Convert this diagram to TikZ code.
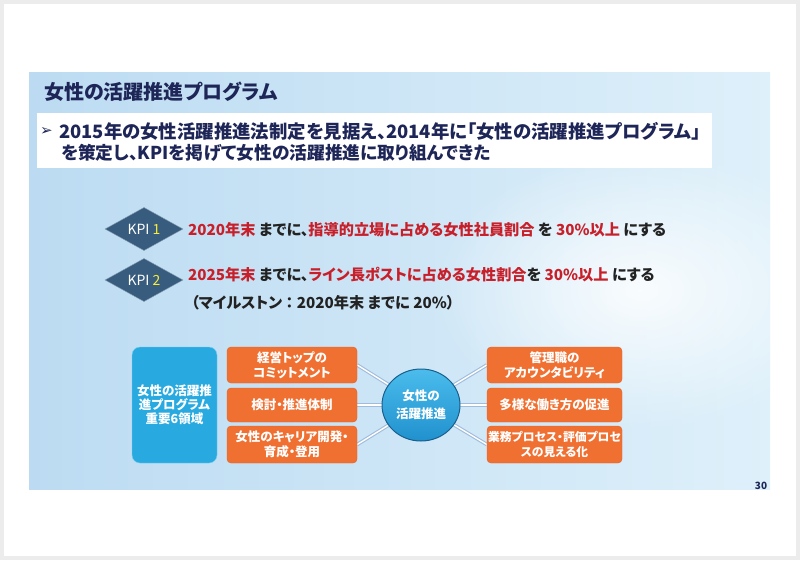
\documentclass[tikz,border=0pt]{standalone}
\usepackage{fontspec}
\setmainfont{Noto Sans CJK JP}[RawFeature=+palt]
\newfontfamily\dejavu{DejaVu Sans}
\usetikzlibrary{shapes.geometric,positioning,fadings}

\definecolor{navy}{RGB}{30,38,88}
\definecolor{ink}{RGB}{34,34,34}
\definecolor{kpired}{RGB}{200,32,42}
\definecolor{kpiblue}{RGB}{55,92,125}
\definecolor{kpiyellow}{RGB}{250,235,60}
\definecolor{orangefill}{RGB}{240,112,50}
\definecolor{orangeedge}{RGB}{226,96,36}
\definecolor{cyanfill}{RGB}{40,170,225}
\definecolor{hubtop}{RGB}{75,188,236}
\definecolor{hubbottom}{RGB}{32,145,205}
\definecolor{hubedge}{RGB}{25,95,140}
\definecolor{linkcol}{RGB}{160,188,220}
\definecolor{panelL}{RGB}{188,219,242}
\definecolor{panelR}{RGB}{222,240,250}

\pgfdeclarelayer{bg}
\pgfdeclarelayer{links}
\pgfsetlayers{bg,links,main}

\tikzfading[name=glow, inner color=transparent!0, outer color=transparent!100]

\newcommand{\hl}[1]{\textcolor{kpired}{#1}}

\tikzset{
  kpi/.style={diamond, fill=kpiblue, draw=kpiblue!60!white, inner sep=0pt,
    minimum width=78, minimum height=28, text=white,
    font=\fontsize{14}{14}\selectfont},
  goal/.style={anchor=west, inner sep=0pt, text=ink,
    font=\bfseries\fontsize{15.2}{15.2}\selectfont},
  orangebox/.style={rectangle, rounded corners=4, fill=orangefill, draw=orangeedge,
    text=white, align=center, inner sep=0pt,
    font=\bfseries\fontsize{12.5}{15}\selectfont},
  link/.style={draw=linkcol, double=white, line width=1.1pt, double distance=1.4pt}
}

\begin{document}
\begin{tikzpicture}[x=1pt,y=-1pt]

  % slide and panel
  \begin{pgfonlayer}{bg}
    \fill[gray!15] (0,0) rectangle (800,560);
    \fill[white] (4,4) rectangle (796,556);
    \shade[left color=panelL, right color=panelR] (29,72) rectangle (770,489);
    \begin{scope}
      \clip (29,72) rectangle (770,489);
      \fill[white, opacity=0.85, path fading=glow] (640,290) ellipse (210 and 140);
    \end{scope}
  \end{pgfonlayer}

  \node (title) [anchor=west, inner sep=0pt, text=navy,
        font=\bfseries\fontsize{20}{20}\selectfont] at (44,92)
        {女性の活躍推進プログラム};

  \node (intro) [fill=white, minimum width=675, minimum height=55,
        anchor=north west] at (37,113) {};
  \node (bullet) [anchor=west, inner sep=0pt, text=navy,
        font=\dejavu\fontsize{15}{15}\selectfont] at (40,131) {➢};
  \node (lineone) [anchor=west, inner sep=0pt, text=navy,
        font=\bfseries\fontsize{18.4}{18.4}\selectfont] at (59,131)
        {2015年の女性活躍推進法制定を見据え、2014年に「女性の活躍推進プログラム」};
  \node (linetwo) [anchor=west, inner sep=0pt, text=navy,
        font=\bfseries\fontsize{17.7}{17.7}\selectfont] at (61,153)
        {を策定し、KPIを掲げて女性の活躍推進に取り組んできた};

  % KPI
  \node (kpione) [kpi] at (144,229) {KPI \textcolor{kpiyellow}{1}};
  \node (kpitwo) [kpi] at (144,280) {KPI \textcolor{kpiyellow}{2}};
  \node (goalone) [goal] at (188,230)
        {\hl{2020年末} までに、\hl{指導的立場に占める女性社員割合} を \hl{30\%以上} にする};
  \node (goaltwo) [goal] at (188,275)
        {\hl{2025年末} までに、\hl{ライン長ポストに占める女性割合}を \hl{30\%以上} にする};
  \node (milestone) [goal] at (191,303) {（マイルストン ： 2020年末 までに 20\%）};

  % six areas
  \node (areas) [rectangle, rounded corners=8, fill=cyanfill, draw=cyanfill!60!white,
        minimum width=85, minimum height=116, text=white, align=center,
        font=\bfseries\fontsize{12.5}{14}\selectfont] at (174.5,405)
        {女性の活躍推\\進プログラム\\重要6領域};

  \node (lone) [orangebox, minimum width=130, minimum height=36] at (292,365)
        {経営トップの\\コミットメント};
  \node (ltwo) [orangebox, minimum width=130, minimum height=34] at (292,405)
        {検討・推進体制};
  \node (lthree) [orangebox, minimum width=130, minimum height=37] at (292,444.5)
        {女性のキャリア開発・\\育成・登用};

  \node (rone) [orangebox, minimum width=135, minimum height=36] at (554.5,365)
        {管理職の\\アカウンタビリティ};
  \node (rtwo) [orangebox, minimum width=135, minimum height=34] at (554.5,405)
        {多様な働き方の促進};
  \node (rthree) [orangebox, minimum width=135, minimum height=37,
        font=\bfseries\fontsize{11.8}{15}\selectfont] at (554.5,444.5)
        {業務プロセス・評価プロセ\\スの見える化};

  \node (hub) [ellipse, minimum width=78, minimum height=72, inner sep=0pt,
        top color=hubtop, bottom color=hubbottom, draw=hubedge, line width=1pt,
        text=white, align=center, font=\bfseries\fontsize{12.5}{18}\selectfont]
        at (421,405) {女性の\\活躍推進};

  \begin{pgfonlayer}{links}
    \foreach \b/\a in {lone/east,ltwo/east,lthree/east,rone/west,rtwo/west,rthree/west}
      \draw[link] (hub.center) -- (\b.\a);
  \end{pgfonlayer}

  \node (pagenum) [text=navy, font=\bfseries\fontsize{10}{10}\selectfont]
        at (761,486) {30};

\end{tikzpicture}
\end{document}
